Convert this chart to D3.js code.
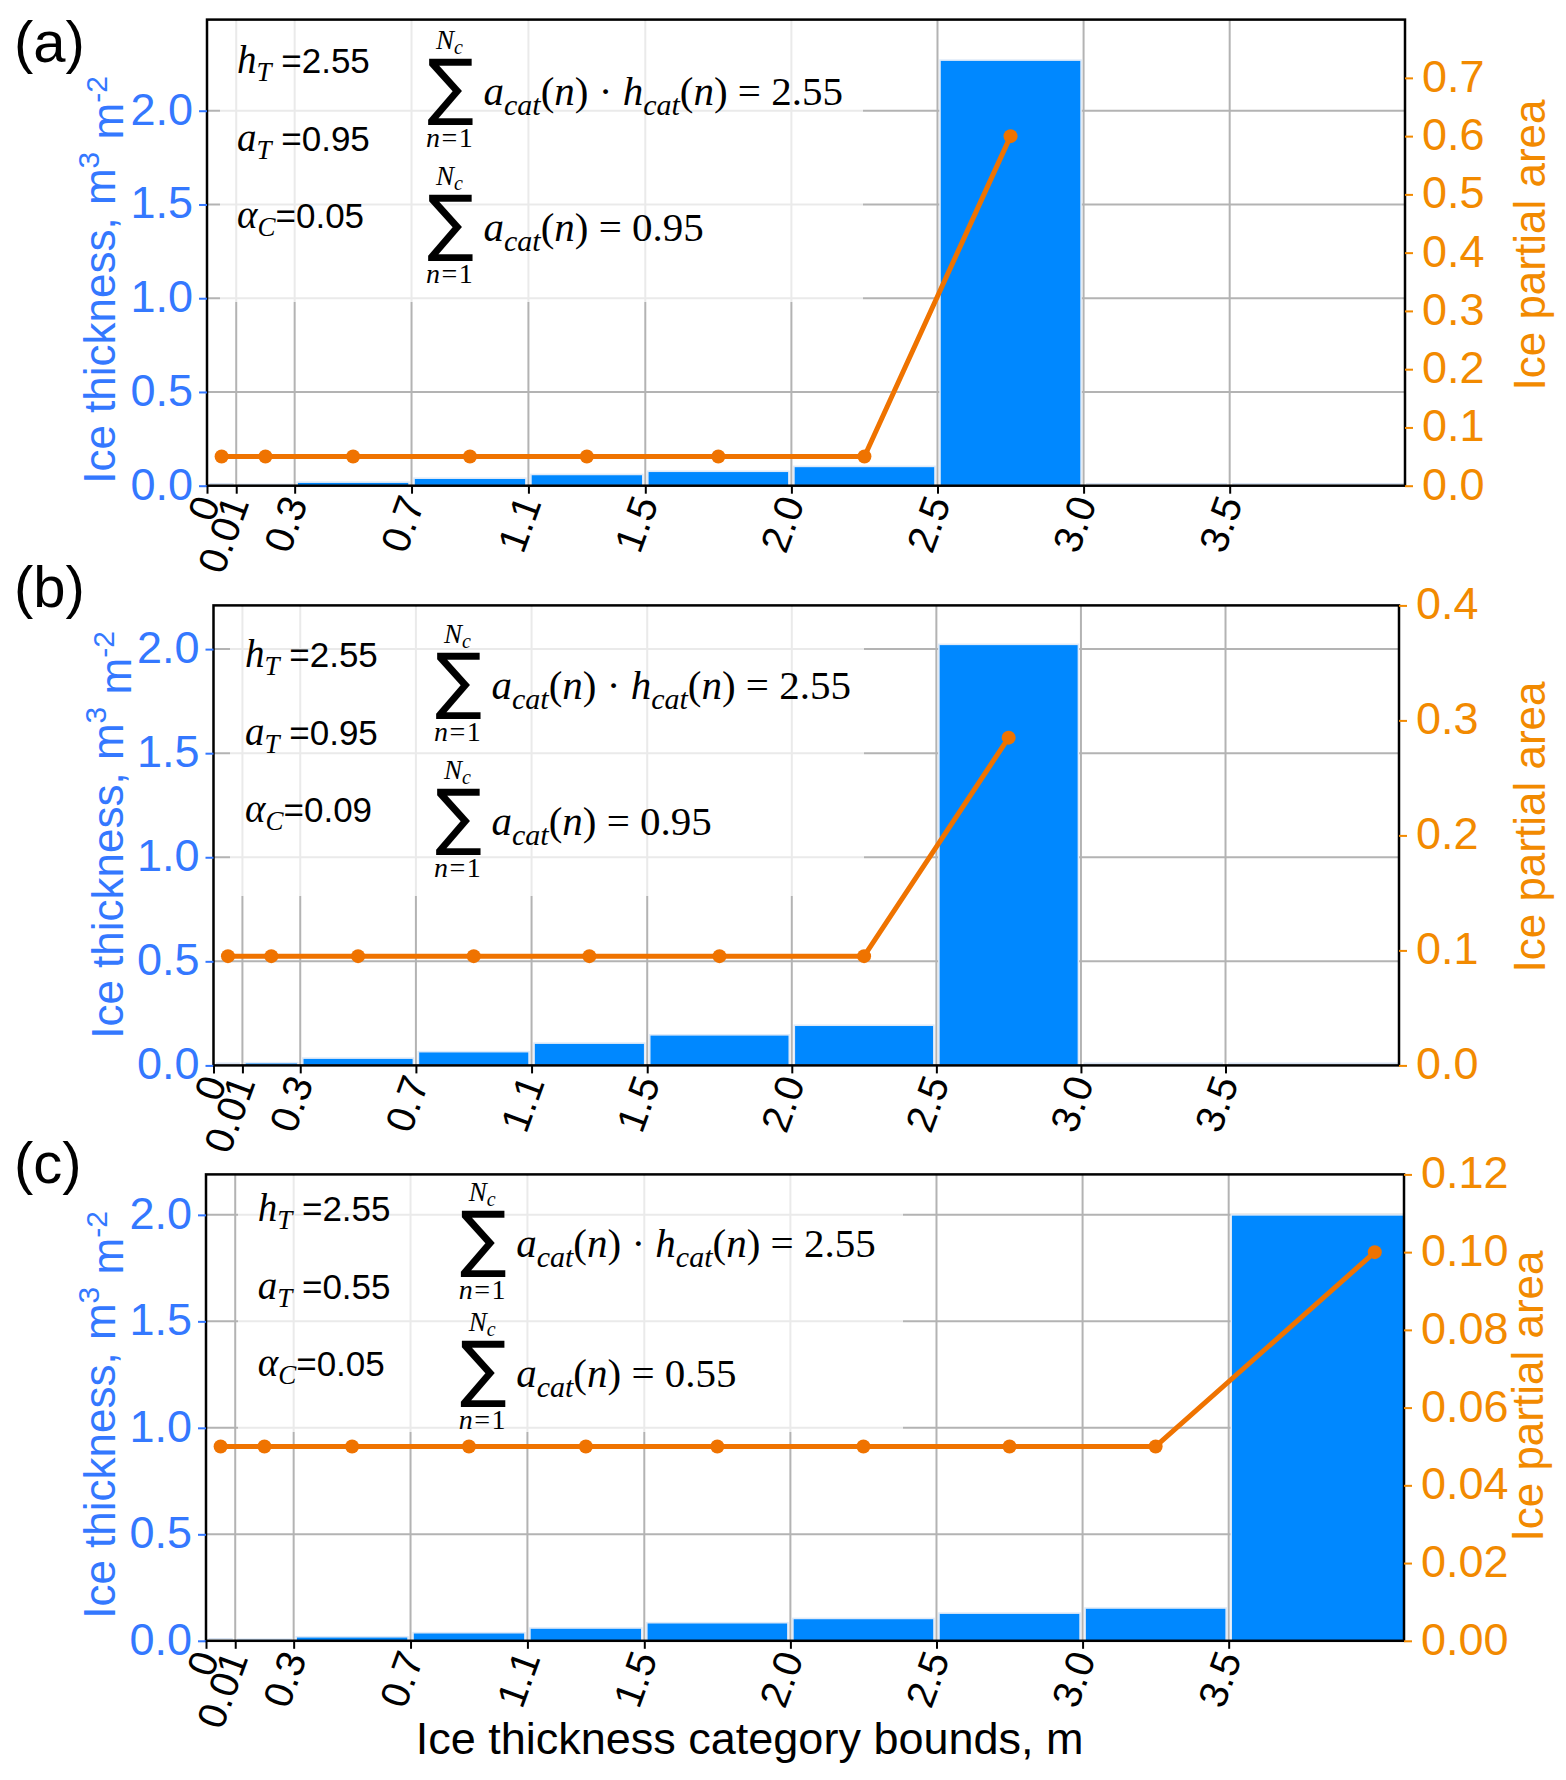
<!DOCTYPE html>
<html>
<head>
<meta charset="utf-8">
<script src="https://cdn.jsdelivr.net/npm/d3@7/dist/d3.min.js"></script>
<style>
  html, body { margin: 0; padding: 0; background: #ffffff; }
  svg { display: block; }
</style>
</head>
<body>
<svg id="chart" width="1566" height="1780"></svg>
<script>
// ---------------- DATA ----------------
// Category bound labels on the x axis and where they are placed on the (stretched) axis
const tickLabels = ["0", "0.01", "0.3", "0.7", "1.1", "1.5", "2.0", "2.5", "3.0", "3.5"];
const tickPos    = [0, 0.1, 0.3, 0.7, 1.1, 1.5, 2.0, 2.5, 3.0, 3.5];
// Category edges on the axis (last category runs past the visible range)
const catEdges   = [0, 0.1, 0.3, 0.7, 1.1, 1.5, 2.0, 2.5, 3.0, 3.5, 4.5];
const xMax = 4.1;

// Panel (a)
const volA  = [0, 0.008, 0.019, 0.040, 0.060, 0.077, 0.103, 2.27, 0, 0];
const areaA = [0.05, 0.05, 0.05, 0.05, 0.05, 0.05, 0.05, 0.60];
// Panel (b)
const volB  = [0, 0.013, 0.035, 0.066, 0.107, 0.147, 0.193, 2.023, 0, 0];
const areaB = [0.095, 0.095, 0.095, 0.095, 0.095, 0.095, 0.095, 0.285];
// Panel (c)
const volC  = [0, 0.008, 0.019, 0.038, 0.060, 0.085, 0.105, 0.130, 0.154, 2.0];
const areaC = [0.05, 0.05, 0.05, 0.05, 0.05, 0.05, 0.05, 0.05, 0.05, 0.10];

// Axis ranges / ticks
const leftMax   = [2.486, 2.21, 2.19];
const leftTicks = [0, 0.5, 1.0, 1.5, 2.0];
const rightMax  = [0.8, 0.4, 0.12];
const rightTicksA = [0, 0.1, 0.2, 0.3, 0.4, 0.5, 0.6, 0.7];
const rightTicksB = [0, 0.1, 0.2, 0.3, 0.4];
const rightTicksC = [0, 0.02, 0.04, 0.06, 0.08, 0.10, 0.12];

// Annotation values
const panelNames = ["(a)", "(b)", "(c)"];
const hT     = ["2.55", "2.55", "2.55"];
const aT     = ["0.95", "0.95", "0.55"];
const alphaC = ["0.05", "0.09", "0.05"];
const sumAH  = ["2.55", "2.55", "2.55"];
const sumA   = ["0.95", "0.95", "0.55"];

// ---------------- STYLE / LAYOUT ----------------
const BAR = "#0088ff", BAR_EDGE = "#dfeaf8";
const LINE = "#ef7300", ORANGE_TXT = "#f28a00";
const BLUE_TXT = "#3478ff";
const GRID = "#b3b3b3";
const SANS = "'Liberation Sans', Arial, sans-serif";
const SERIF = "'Liberation Serif', 'Times New Roman', serif";

const layouts = [
  { plot: {l: 207, r: 1405, t: 19.6, b: 485.7}, box: {l: 220, r: 863, b: 302},
    txtX: 237, hBase: 73, sigX: 428, sigTop: 57, sig2Top: 193,
    yl: {x: 99.5, y: 280}, yr: {x: 1529, y: 245}, lab: {x: 14, y: 62},
    lvol: volA, larea: areaA, rt: rightTicksA, rfmt: ".1f" },
  { plot: {l: 213.5, r: 1399, t: 605.4, b: 1065.4}, box: {l: 230, r: 864, b: 896},
    txtX: 245, hBase: 667, sigX: 436, sigTop: 651, sig2Top: 787,
    yl: {x: 107, y: 835}, yr: {x: 1529, y: 827}, lab: {x: 14, y: 607},
    lvol: volB, larea: areaB, rt: rightTicksB, rfmt: ".1f" },
  { plot: {l: 206, r: 1404, t: 1174.4, b: 1640.8}, box: {l: 238, r: 903, b: 1432},
    txtX: 257.7, hBase: 1221, sigX: 460.7, sigTop: 1208.8, sig2Top: 1339,
    yl: {x: 99.5, y: 1415}, yr: {x: 1527, y: 1396}, lab: {x: 14, y: 1183},
    lvol: volC, larea: areaC, rt: rightTicksC, rfmt: ".2f" }
];

const svg = d3.select("#chart");
const defs = svg.append("defs");

// canvas for measuring the summation glyph ink bounds
const mctx = document.createElement("canvas").getContext("2d");

function rich(g, x, y, parts, anchor) {
  const t = g.append("text").attr("x", x).attr("y", y)
    .style("white-space", "pre").attr("fill", "#000")
    .attr("text-anchor", anchor || "start");
  let cur = 0;
  parts.forEach(p => {
    const s = p.shift || 0;
    t.append("tspan").text(p.t)
      .attr("dy", s - cur)
      .style("font-family", p.ff || SERIF)
      .style("font-size", p.fs + "px")
      .style("font-style", p.it ? "italic" : "normal")
      .style("letter-spacing", p.ls ? p.ls + "px" : null);
    cur = s;
  });
  return t;
}

function sigma(g, x, y, w, h) {
  const fs = 100;
  mctx.font = fs + "px 'DejaVu Sans'";
  const m = mctx.measureText("\u2211");
  const inkL = m.actualBoundingBoxLeft, inkR = m.actualBoundingBoxRight;
  const asc = m.actualBoundingBoxAscent, desc = m.actualBoundingBoxDescent;
  const sx = w / (inkL + inkR), sy = h / (asc + desc);
  g.append("text").text("\u2211")
    .style("font-family", "'DejaVu Sans'").style("font-size", fs + "px")
    .attr("transform", `translate(${x + inkL * sx},${y + asc * sy}) scale(${sx},${sy})`)
    .attr("fill", "#000");
}

function sumBlock(g, L, top, rhsParts) {
  sigma(g, L.sigX, top + 2, 45, 67);
  rich(g, L.sigX + 8, top - 8, [
    {t: "N", it: true, fs: 27},
    {t: "c", it: true, fs: 20, shift: 5}
  ]);
  rich(g, L.sigX - 2, top + 90, [
    {t: "n", it: true, fs: 28, ls: 1.5},
    {t: "=1", fs: 28, ls: 1.5}
  ]);
  rich(g, L.sigX + 55.5, top + 48, rhsParts);
}

layouts.forEach((L, i) => {
  const P = L.plot;
  const g = svg.append("g");
  const x = d3.scaleLinear().domain([0, xMax]).range([P.l, P.r]);
  const yL = d3.scaleLinear().domain([0, leftMax[i]]).range([P.b, P.t]);
  const yR = d3.scaleLinear().domain([0, rightMax[i]]).range([P.b, P.t]);

  const clipId = "clip" + i;
  defs.append("clipPath").attr("id", clipId).append("rect")
    .attr("x", P.l).attr("y", P.t).attr("width", P.r - P.l).attr("height", P.b - P.t);

  // grid
  const grid = g.append("g");
  grid.selectAll("line.v").data(tickPos.filter(d => d > 0)).join("line")
    .attr("x1", d => x(d)).attr("x2", d => x(d)).attr("y1", P.t).attr("y2", P.b)
    .attr("stroke", GRID).attr("stroke-width", 2);
  grid.selectAll("line.h").data(leftTicks.filter(d => d > 0)).join("line")
    .attr("x1", P.l).attr("x2", P.r).attr("y1", d => yL(d)).attr("y2", d => yL(d))
    .attr("stroke", GRID).attr("stroke-width", 2);

  // annotation box (semi-transparent white)
  g.append("rect").attr("x", L.box.l).attr("y", P.t + 1)
    .attr("width", L.box.r - L.box.l).attr("height", L.box.b - P.t - 1)
    .attr("fill", "#fff").attr("opacity", 0.72);

  // bars
  const cats = L.lvol.map((v, k) => ({v, x0: catEdges[k], x1: catEdges[k + 1]}));
  const bars = g.append("g").attr("clip-path", `url(#${clipId})`);
  bars.selectAll("rect").data(cats.filter(c => c.v > 0)).join("rect")
    .attr("x", c => x(c.x0) + 2.5)
    .attr("width", c => x(c.x1) - x(c.x0) - 5)
    .attr("y", c => yL(c.v))
    .attr("height", c => P.b - yL(c.v))
    .attr("fill", BAR).attr("stroke", BAR_EDGE).attr("stroke-width", 1.6);
  bars.selectAll("line").data(cats.filter(c => c.v === 0)).join("line")
    .attr("x1", c => x(c.x0) + 2.5).attr("x2", c => x(c.x1) - 2.5)
    .attr("y1", P.b - 2).attr("y2", P.b - 2)
    .attr("stroke", "#d6e2f2").attr("stroke-width", 1.6);

  // partial area line
  const pts = L.larea.map((v, k) => ({v, xm: (catEdges[k] + catEdges[k + 1]) / 2}));
  const lg = g.append("g").attr("clip-path", `url(#${clipId})`);
  lg.append("path").datum(pts)
    .attr("d", d3.line().x(d => x(d.xm)).y(d => yR(d.v)))
    .attr("fill", "none").attr("stroke", LINE).attr("stroke-width", 5)
    .attr("stroke-linejoin", "round");
  lg.selectAll("circle").data(pts).join("circle")
    .attr("cx", d => x(d.xm)).attr("cy", d => yR(d.v)).attr("r", 7)
    .attr("fill", LINE);

  // spines
  g.append("rect").attr("x", P.l).attr("y", P.t).attr("width", P.r - P.l).attr("height", P.b - P.t)
    .attr("fill", "none").attr("stroke", "#000").attr("stroke-width", 2.5);

  // left axis
  const ax = g.append("g").attr("transform", `translate(${P.l},0)`)
    .call(d3.axisLeft(yL).tickValues(leftTicks).tickFormat(d3.format(".1f")).tickSize(8).tickPadding(6));
  ax.select(".domain").remove();
  ax.selectAll(".tick line").attr("stroke", BLUE_TXT).attr("stroke-width", 2);
  ax.selectAll(".tick text").attr("fill", BLUE_TXT).attr("dy", "0.3em")
    .style("font-family", SANS).style("font-size", "45px");

  // right axis
  const axr = g.append("g").attr("transform", `translate(${P.r},0)`)
    .call(d3.axisRight(yR).tickValues(L.rt).tickFormat(d3.format(L.rfmt)).tickSize(8).tickPadding(9));
  axr.select(".domain").remove();
  axr.selectAll(".tick line").attr("stroke", ORANGE_TXT).attr("stroke-width", 2);
  axr.selectAll(".tick text").attr("fill", ORANGE_TXT).attr("dy", "0.3em")
    .style("font-family", SANS).style("font-size", "45px");

  // bottom axis
  const axb = g.append("g").attr("transform", `translate(0,${P.b})`)
    .call(d3.axisBottom(x).tickValues(tickPos).tickFormat((d, k) => tickLabels[k]).tickSize(8));
  axb.select(".domain").remove();
  axb.selectAll(".tick line").attr("stroke", "#000").attr("stroke-width", 2);
  axb.selectAll(".tick text")
    .attr("x", 0).attr("y", 0).attr("dy", 0)
    .attr("transform", "translate(13,17) rotate(-70)")
    .attr("text-anchor", "end").attr("fill", "#000")
    .style("font-family", SANS).style("font-size", "40px");

  // axis titles
  const yl = g.append("text")
    .attr("transform", `translate(${L.yl.x},${L.yl.y}) rotate(-90)`)
    .attr("text-anchor", "middle").attr("dy", "0.36em")
    .attr("fill", BLUE_TXT).style("font-family", SANS).style("font-size", "44px");
  yl.append("tspan").text("Ice thickness, m");
  yl.append("tspan").text("3").style("font-size", "30px").attr("dy", "-0.55em");
  yl.append("tspan").text(" m").attr("dy", "0.55em");
  yl.append("tspan").text("-2").style("font-size", "30px").attr("dy", "-0.55em");

  g.append("text")
    .attr("transform", `translate(${L.yr.x},${L.yr.y}) rotate(-90)`)
    .attr("text-anchor", "middle").attr("dy", "0.36em")
    .attr("fill", ORANGE_TXT).style("font-family", SANS).style("font-size", "44px")
    .text("Ice partial area");

  // panel label
  g.append("text").attr("x", L.lab.x).attr("y", L.lab.y)
    .style("font-family", SANS).style("font-size", "58px").attr("fill", "#000")
    .text(panelNames[i]);

  // annotations
  const an = g.append("g");
  rich(an, L.txtX, L.hBase, [
    {t: "h", it: true, fs: 39},
    {t: "T", it: true, fs: 27, shift: 8},
    {t: " =" + hT[i], ff: SANS, fs: 35, shift: 0}
  ]);
  rich(an, L.txtX, L.hBase + 77.6, [
    {t: "a", it: true, fs: 39},
    {t: "T", it: true, fs: 27, shift: 8},
    {t: " =" + aT[i], ff: SANS, fs: 35, shift: 0}
  ]);
  rich(an, L.txtX, L.hBase + 155.2, [
    {t: "\u03B1", it: true, fs: 39},
    {t: "C", it: true, fs: 27, shift: 8},
    {t: "=" + alphaC[i], ff: SANS, fs: 35, shift: 0}
  ]);

  const sub = (s) => ({t: s, it: true, fs: 30, shift: 10});
  sumBlock(an, L, L.sigTop, [
    {t: "a", it: true, fs: 41}, sub("cat"),
    {t: "(", fs: 41, shift: 0}, {t: "n", it: true, fs: 41}, {t: ")", fs: 41},
    {t: " \u00B7 ", fs: 41},
    {t: "h", it: true, fs: 41}, sub("cat"),
    {t: "(", fs: 41, shift: 0}, {t: "n", it: true, fs: 41}, {t: ")", fs: 41},
    {t: " = " + sumAH[i], fs: 41}
  ]);
  sumBlock(an, L, L.sig2Top, [
    {t: "a", it: true, fs: 41}, sub("cat"),
    {t: "(", fs: 41, shift: 0}, {t: "n", it: true, fs: 41}, {t: ")", fs: 41},
    {t: " = " + sumA[i], fs: 41}
  ]);
});

// x axis title (bottom panel)
svg.append("text").attr("x", 749.6).attr("y", 1754)
  .attr("text-anchor", "middle").attr("fill", "#000")
  .style("font-family", SANS).style("font-size", "45px")
  .text("Ice thickness category bounds, m");
</script>
</body>
</html>
